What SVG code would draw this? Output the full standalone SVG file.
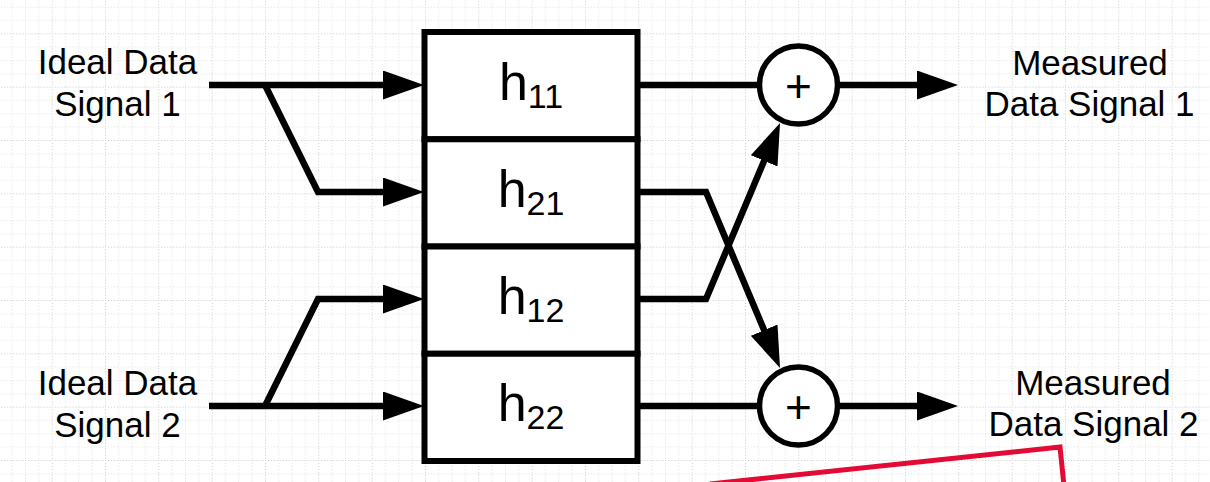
<svg xmlns="http://www.w3.org/2000/svg" width="1210" height="482" viewBox="0 0 1210 482">
  <style>
    .lbl { font-family: "Liberation Sans", Arial, sans-serif; font-size: 35px; fill: #000; text-anchor: middle; }
    .h { font-family: "Liberation Sans", Arial, sans-serif; font-size: 52px; fill: #000; text-anchor: middle; }
    .sub { font-size: 34px; }
    .cell { fill: #fff; stroke: #000; stroke-width: 6; }
    .sum { fill: #fff; stroke: #000; stroke-width: 5.5; }
    .plus { font-family: "Liberation Sans", Arial, sans-serif; font-size: 46px; fill: #000; text-anchor: middle; }
    .wire { fill: none; stroke: #000; stroke-width: 6.5; stroke-linejoin: miter; stroke-linecap: butt; }
    .arr { marker-end: url(#ah); }
    .minor { stroke: #dedede; stroke-width: 1; stroke-dasharray: 1 2; }
    .major { stroke: #c9c9c9; stroke-width: 1; stroke-dasharray: 1 2; }
  </style>
  <defs>
    <marker id="ah" markerUnits="userSpaceOnUse" markerWidth="41" markerHeight="29" refX="2" refY="14.5" orient="auto">
      <path d="M0,0 L41,14.5 L0,29 Z" fill="#000"/>
    </marker>
    <pattern id="grid" patternUnits="userSpaceOnUse" x="51.67" y="33.33" width="53.333" height="53.333">
      <line class="minor" x1="13.833" y1="0" x2="13.833" y2="53.333"/>
      <line class="minor" x1="27.167" y1="0" x2="27.167" y2="53.333"/>
      <line class="minor" x1="40.5" y1="0" x2="40.5" y2="53.333"/>
      <line class="minor" x1="0" y1="13.833" x2="53.333" y2="13.833"/>
      <line class="minor" x1="0" y1="27.167" x2="53.333" y2="27.167"/>
      <line class="minor" x1="0" y1="40.5" x2="53.333" y2="40.5"/>
      <line class="major" x1="0.5" y1="0" x2="0.5" y2="53.333"/>
      <line class="major" x1="0" y1="0.5" x2="53.333" y2="0.5"/>
    </pattern>
  </defs>

  <rect width="1210" height="482" fill="#fff"/>
  <rect width="1210" height="482" fill="url(#grid)"/>

  <g id="connectors">
    <path class="wire arr" d="M209,85 H385"/>
    <path class="wire arr" d="M265,85 L318,192 H385"/>
    <path class="wire arr" d="M209,406 H385"/>
    <path class="wire arr" d="M265,406 L318,299 H385"/>
    <path class="wire" d="M637,85 H760"/>
    <path class="wire" d="M637,406 H760"/>
    <path class="wire arr" d="M637,192 H706 L764.9,332"/>
    <path class="wire arr" d="M637,299 H706 L764.9,159"/>
    <path class="wire arr" d="M837,85 H919"/>
    <path class="wire arr" d="M837,406 H919"/>
  </g>

  <g id="h11">
    <rect class="cell" x="424.5" y="32" width="213" height="107.25"/>
    <text class="h" x="531" y="100">h<tspan class="sub" dy="8">11</tspan></text>
  </g>
  <g id="h21">
    <rect class="cell" x="424.5" y="139.25" width="213" height="107.25"/>
    <text class="h" x="531" y="207">h<tspan class="sub" dy="8">21</tspan></text>
  </g>
  <g id="h12">
    <rect class="cell" x="424.5" y="246.5" width="213" height="107.25"/>
    <text class="h" x="531" y="314">h<tspan class="sub" dy="8">12</tspan></text>
  </g>
  <g id="h22">
    <rect class="cell" x="424.5" y="353.75" width="213" height="107.25"/>
    <text class="h" x="531" y="421">h<tspan class="sub" dy="8">22</tspan></text>
  </g>

  <g id="sum1">
    <circle class="sum" cx="798.5" cy="85" r="39"/>
    <text class="plus" x="798.5" y="102">+</text>
  </g>
  <g id="sum2">
    <circle class="sum" cx="798.5" cy="406" r="39"/>
    <text class="plus" x="798.5" y="423">+</text>
  </g>

  <g id="in1">
    <text class="lbl" x="117.5" y="74">Ideal Data</text>
    <text class="lbl" x="117.5" y="116">Signal 1</text>
  </g>
  <g id="in2">
    <text class="lbl" x="117.5" y="395">Ideal Data</text>
    <text class="lbl" x="117.5" y="437">Signal 2</text>
  </g>
  <g id="out1">
    <text class="lbl" x="1090" y="75">Measured</text>
    <text class="lbl" x="1089.5" y="116">Data Signal 1</text>
  </g>
  <g id="out2">
    <text class="lbl" x="1093" y="395">Measured</text>
    <text class="lbl" x="1093.5" y="436">Data Signal 2</text>
  </g>

  <polyline id="highlight" points="710,484 1060,447 1064,486" fill="none" stroke="#e30b35" stroke-width="5" stroke-linejoin="miter"/>
</svg>
